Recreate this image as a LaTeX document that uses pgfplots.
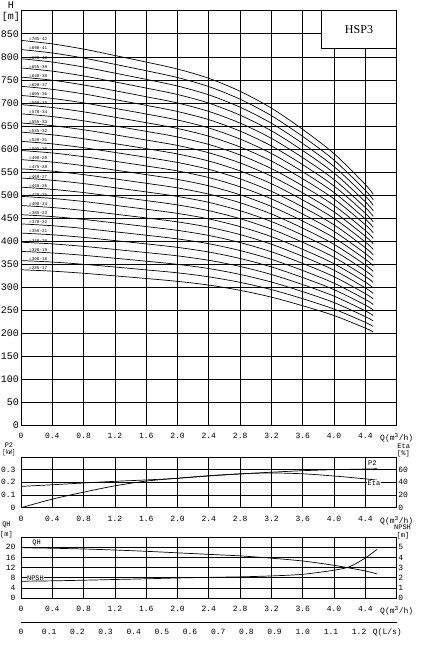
\documentclass[border=0pt]{standalone}
\usepackage{pgfplots}
\usepackage{pgfplotstable}
\pgfplotsset{compat=1.18}
\usepackage{fontspec}
\setmainfont{Liberation Mono}
\newfontfamily\hspfont{Liberation Serif}

\pgfplotstableread{
Q n17 n18 n19 n20 n21 n22 n23 n24 n25 n26 n27 n28 n29 n30 n31 n32 n33 n34 n35 n36 n37 n38 n39 n40 n41 n42
0 338.3 358.2 378.1 398.0 417.9 437.8 457.7 477.6 497.5 517.4 537.3 557.2 577.1 597.0 616.9 636.8 656.7 676.6 696.5 716.4 736.3 756.2 776.1 796.0 815.9 835.8
0.4 335.2 355.0 374.7 394.4 414.1 433.8 453.6 473.3 493.0 512.7 532.4 552.2 571.9 591.6 611.3 631.0 650.8 670.5 690.2 709.9 729.6 749.4 769.1 788.8 808.5 828.2
0.8 330.7 350.1 369.6 389.0 408.5 427.9 447.4 466.8 486.3 505.7 525.2 544.6 564.1 583.5 603.0 622.4 641.9 661.3 680.8 700.2 719.7 739.1 758.6 778.0 797.5 816.9
1.2 325.0 344.2 363.3 382.4 401.5 420.6 439.8 458.9 478.0 497.1 516.2 535.4 554.5 573.6 592.7 611.8 631.0 650.1 669.2 688.3 707.4 726.6 745.7 764.8 783.9 803.0
1.6 319.3 338.0 356.8 375.6 394.4 413.2 431.9 450.7 469.5 488.3 507.1 525.8 544.6 563.4 582.2 601.0 619.7 638.5 657.3 676.1 694.9 713.6 732.4 751.2 770.0 788.8
2.0 313.1 331.6 350.0 368.4 386.8 405.2 423.7 442.1 460.5 478.9 497.3 515.8 534.2 552.6 571.0 589.4 607.9 626.3 644.7 663.1 681.5 700.0 718.4 736.8 755.2 773.6
2.4 305.0 322.9 340.9 358.8 376.7 394.7 412.6 430.6 448.5 466.4 484.4 502.3 520.3 538.2 556.1 574.1 592.0 610.0 627.9 645.8 663.8 681.7 699.7 717.6 735.5 753.5
2.8 293.6 310.9 328.1 345.4 362.7 379.9 397.2 414.5 431.8 449.0 466.3 483.6 500.8 518.1 535.4 552.6 569.9 587.2 604.5 621.7 639.0 656.3 673.5 690.8 708.1 725.3
3.2 278.8 295.2 311.6 328.0 344.4 360.8 377.2 393.6 410.0 426.4 442.8 459.2 475.6 492.0 508.4 524.8 541.2 557.6 574.0 590.4 606.8 623.2 639.6 656.0 672.4 688.8
3.6 260.1 275.4 290.7 306.0 321.3 336.6 351.9 367.2 382.5 397.8 413.1 428.4 443.7 459.0 474.3 489.6 504.9 520.2 535.5 550.8 566.1 581.4 596.7 612.0 627.3 642.6
4.0 238.9 252.9 267.0 281.0 295.1 309.1 323.2 337.2 351.3 365.3 379.4 393.4 407.5 421.5 435.6 449.6 463.7 477.7 491.8 505.8 519.9 533.9 548.0 562.0 576.1 590.1
4.4 211.7 224.1 236.6 249.0 261.5 273.9 286.4 298.8 311.3 323.7 336.2 348.6 361.1 373.5 386.0 398.4 410.9 423.3 435.8 448.2 460.7 473.1 485.6 498.0 510.5 522.9
4.5 203.2 215.1 227.1 239.0 251.0 262.9 274.9 286.8 298.8 310.7 322.7 334.6 346.6 358.5 370.5 382.4 394.4 406.3 418.3 430.2 442.2 454.1 466.1 478.0 490.0 501.9
}\curves

\pgfplotsset{
  base/.style={
    scale only axis, width=375.7pt, anchor=south west,
    xmin=0, xmax=4.8,
    xtick={0,0.4,0.8,1.2,1.6,2.0,2.4,2.8,3.2,3.6,4.0,4.4,4.8},
    xticklabels={0,0.4,0.8,1.2,1.6,2.0,2.4,2.8,3.2,3.6,4.0,4.4,Q(m\textsuperscript{3}/h)},
    major tick length=0pt,
    grid=major, grid style={black, line width=0.75pt},
    axis line style={line width=0.9pt},
    xticklabel style={font=\fontsize{8}{9}\selectfont},
    /pgf/number format/assume math mode=true,
  },
  rightax/.style={
    scale only axis, width=375.7pt, anchor=south west,
    xmin=0, xmax=4.8, axis y line*=right, axis x line=none,
    major tick length=0pt,
    axis line style={line width=0.9pt},
    yticklabel style={font=\fontsize{8}{9}\selectfont, inner sep=1.5pt},
    /pgf/number format/assume math mode=true,
  },
  crv/.style={black, line width=0.7pt, smooth, no marks},
}

\begin{document}
\begin{tikzpicture}
\useasboundingbox (0,0) rectangle (428pt,645pt);

% ---------------- main H-Q chart
\begin{axis}[base, at={(21pt,219.3pt)}, height=414.9pt,
  ymin=0, ymax=900, ytick={0,50,...,850},
  yticklabel style={font=\fontsize{10}{12}\selectfont, inner sep=2pt},
  xticklabel style={yshift=-4pt}]
\pgfplotsinvokeforeach{17,...,42}{\addplot[crv] table[x=Q,y=n#1]{\curves};}
\node[anchor=south west,inner sep=0.2pt,font=\fontsize{4.3}{5}\selectfont] at (axis cs:0.1,337.6) {=285-17};
\node[anchor=south west,inner sep=0.2pt,font=\fontsize{4.3}{5}\selectfont] at (axis cs:0.1,357.5) {=300-18};
\node[anchor=south west,inner sep=0.2pt,font=\fontsize{4.3}{5}\selectfont] at (axis cs:0.1,377.3) {=320-19};
\node[anchor=south west,inner sep=0.2pt,font=\fontsize{4.3}{5}\selectfont] at (axis cs:0.1,397.2) {=340-20};
\node[anchor=south west,inner sep=0.2pt,font=\fontsize{4.3}{5}\selectfont] at (axis cs:0.1,417.1) {=355-21};
\node[anchor=south west,inner sep=0.2pt,font=\fontsize{4.3}{5}\selectfont] at (axis cs:0.1,436.9) {=370-22};
\node[anchor=south west,inner sep=0.2pt,font=\fontsize{4.3}{5}\selectfont] at (axis cs:0.1,456.8) {=385-23};
\node[anchor=south west,inner sep=0.2pt,font=\fontsize{4.3}{5}\selectfont] at (axis cs:0.1,476.6) {=400-24};
\node[anchor=south west,inner sep=0.2pt,font=\fontsize{4.3}{5}\selectfont] at (axis cs:0.1,496.5) {=420-25};
\node[anchor=south west,inner sep=0.2pt,font=\fontsize{4.3}{5}\selectfont] at (axis cs:0.1,516.4) {=440-26};
\node[anchor=south west,inner sep=0.2pt,font=\fontsize{4.3}{5}\selectfont] at (axis cs:0.1,536.2) {=460-27};
\node[anchor=south west,inner sep=0.2pt,font=\fontsize{4.3}{5}\selectfont] at (axis cs:0.1,556.1) {=475-28};
\node[anchor=south west,inner sep=0.2pt,font=\fontsize{4.3}{5}\selectfont] at (axis cs:0.1,575.9) {=490-29};
\node[anchor=south west,inner sep=0.2pt,font=\fontsize{4.3}{5}\selectfont] at (axis cs:0.1,595.8) {=505-30};
\node[anchor=south west,inner sep=0.2pt,font=\fontsize{4.3}{5}\selectfont] at (axis cs:0.1,615.7) {=520-31};
\node[anchor=south west,inner sep=0.2pt,font=\fontsize{4.3}{5}\selectfont] at (axis cs:0.1,635.5) {=535-32};
\node[anchor=south west,inner sep=0.2pt,font=\fontsize{4.3}{5}\selectfont] at (axis cs:0.1,655.4) {=555-33};
\node[anchor=south west,inner sep=0.2pt,font=\fontsize{4.3}{5}\selectfont] at (axis cs:0.1,675.2) {=570-34};
\node[anchor=south west,inner sep=0.2pt,font=\fontsize{4.3}{5}\selectfont] at (axis cs:0.1,695.1) {=590-35};
\node[anchor=south west,inner sep=0.2pt,font=\fontsize{4.3}{5}\selectfont] at (axis cs:0.1,715.0) {=605-36};
\node[anchor=south west,inner sep=0.2pt,font=\fontsize{4.3}{5}\selectfont] at (axis cs:0.1,734.8) {=620-37};
\node[anchor=south west,inner sep=0.2pt,font=\fontsize{4.3}{5}\selectfont] at (axis cs:0.1,754.7) {=640-38};
\node[anchor=south west,inner sep=0.2pt,font=\fontsize{4.3}{5}\selectfont] at (axis cs:0.1,774.5) {=655-39};
\node[anchor=south west,inner sep=0.2pt,font=\fontsize{4.3}{5}\selectfont] at (axis cs:0.1,794.4) {=670-40};
\node[anchor=south west,inner sep=0.2pt,font=\fontsize{4.3}{5}\selectfont] at (axis cs:0.1,814.3) {=690-41};
\node[anchor=south west,inner sep=0.2pt,font=\fontsize{4.3}{5}\selectfont] at (axis cs:0.1,834.1) {=705-42};
\end{axis}
\draw[fill=white, line width=0.9pt] (321.7pt,596.7pt) rectangle (396.7pt,634.2pt);
\node[font=\hspfont\fontsize{12}{14}\selectfont] at (359pt,615.7pt) {HSP3};
\node[font=\fontsize{10}{12}\selectfont] at (11pt,639.5pt) {H};
\node[font=\fontsize{10}{12}\selectfont] at (11pt,628.5pt) {[m]};

% ---------------- P2 / Eta panel
\begin{axis}[base, at={(21pt,137.3pt)}, height=50.7pt,
  ymin=0, ymax=0.4, ytick={0,0.1,0.2,0.3}, yticklabels={0,0.1,0.2,0.3},
  yticklabel style={font=\fontsize{8}{9}\selectfont, xshift=-2pt},
  xticklabel style={yshift=-5pt}]
\addplot[crv] coordinates {(0,0.168)(0.4,0.181)(0.8,0.195)(1.2,0.208)(1.6,0.219)(2.0,0.232)(2.4,0.250)(2.8,0.266)(3.2,0.280)(3.6,0.292)(4.0,0.300)(4.4,0.305)(4.55,0.307)};
\node[font=\fontsize{7}{8}\selectfont, inner sep=0.5pt] at (axis cs:4.49,0.351) {P2};
\end{axis}
\begin{axis}[rightax, at={(21pt,137.3pt)}, height=50.7pt,
  ymin=0, ymax=80, ytick={0,20,40,60}]
\addplot[crv] coordinates {(0,0)(0.4,13.5)(0.8,24.5)(1.2,34.5)(1.6,42.0)(2.0,46.5)(2.4,50.5)(2.8,53.5)(3.2,54.8)(3.6,53.5)(4.0,50.0)(4.4,45.5)(4.55,43.5)};
\node[fill=white, font=\fontsize{7}{8}\selectfont, inner sep=0.5pt] at (axis cs:4.51,39) {Eta};
\end{axis}
\node[font=\fontsize{7}{8}\selectfont] at (9pt,200pt) {P2};
\node[font=\fontsize{7}{8}\selectfont] at (9pt,192.5pt) {\scalebox{0.75}[1]{[kW]}};
\node[font=\fontsize{7}{8}\selectfont] at (403.7pt,198.7pt) {Eta};
\node[font=\fontsize{7}{8}\selectfont] at (403.5pt,191.7pt) {[\%]};

% ---------------- QH / NPSH panel
\begin{axis}[base, at={(21pt,46.7pt)}, height=61.3pt,
  ymin=0, ymax=24, ytick={0,4,8,12,16,20},
  yticklabel style={font=\fontsize{8}{9}\selectfont, xshift=-2pt},
  xticklabel style={yshift=-4.5pt}]
\addplot[crv] coordinates {(0,19.8)(0.4,19.6)(0.8,19.3)(1.2,18.9)(1.6,18.4)(2.0,17.8)(2.4,17.2)(2.8,16.6)(3.2,15.7)(3.6,14.6)(4.0,12.9)(4.4,10.7)(4.55,9.5)};
\node[font=\fontsize{7}{8}\selectfont, inner sep=0.5pt] at (axis cs:0.2,21.8) {QH};
\node[fill=white, font=\fontsize{7}{8}\selectfont, inner sep=0.5pt] at (axis cs:0.185,7.9) {NPSH};
\end{axis}
\begin{axis}[rightax, at={(21pt,46.7pt)}, height=61.3pt,
  ymin=0, ymax=6, ytick={0,1,2,3,4,5}]
\addplot[crv] coordinates {(0,1.67)(0.4,1.71)(0.8,1.77)(1.2,1.84)(1.6,1.91)(2.0,1.99)(2.4,2.05)(2.8,2.10)(3.2,2.19)(3.6,2.35)(4.0,2.75)(4.2,3.10)(4.4,3.95)(4.55,4.80)};
\end{axis}
\node[font=\fontsize{7}{8}\selectfont] at (6.5pt,120pt) {QH};
\node[font=\fontsize{7}{8}\selectfont] at (6.5pt,110.5pt) {[m]};
\node[font=\fontsize{7}{8}\selectfont] at (402.5pt,118pt) {NPSH};
\node[font=\fontsize{7}{8}\selectfont] at (403pt,109.5pt) {[m]};

% ---------------- L/s scale
\begin{axis}[scale only axis, width=375.7pt, height=5pt, at={(21pt,22.3pt)}, anchor=south west,
  xmin=0, xmax=4.8, ymin=0, ymax=1, clip=false,
  axis line style={draw=none}, ytick=\empty,
  xtick={0,0.36,0.72,1.08,1.44,1.8,2.16,2.52,2.88,3.24,3.6,3.96,4.32},
  xticklabels={0,0.1,0.2,0.3,0.4,0.5,0.6,0.7,0.8,0.9,1.0,1.1,1.2},
  major tick length=0pt,
  xticklabel style={font=\fontsize{8}{9}\selectfont, yshift=-2.5pt}]
\draw[line width=0.9pt] (rel axis cs:0,0) -- (rel axis cs:1,0);
\node[font=\fontsize{8}{9}\selectfont, anchor=north, yshift=-2.5pt, inner sep=0.333em] at (axis cs:4.68,0) {Q(L/s)};
\end{axis}
\end{tikzpicture}
\end{document}
